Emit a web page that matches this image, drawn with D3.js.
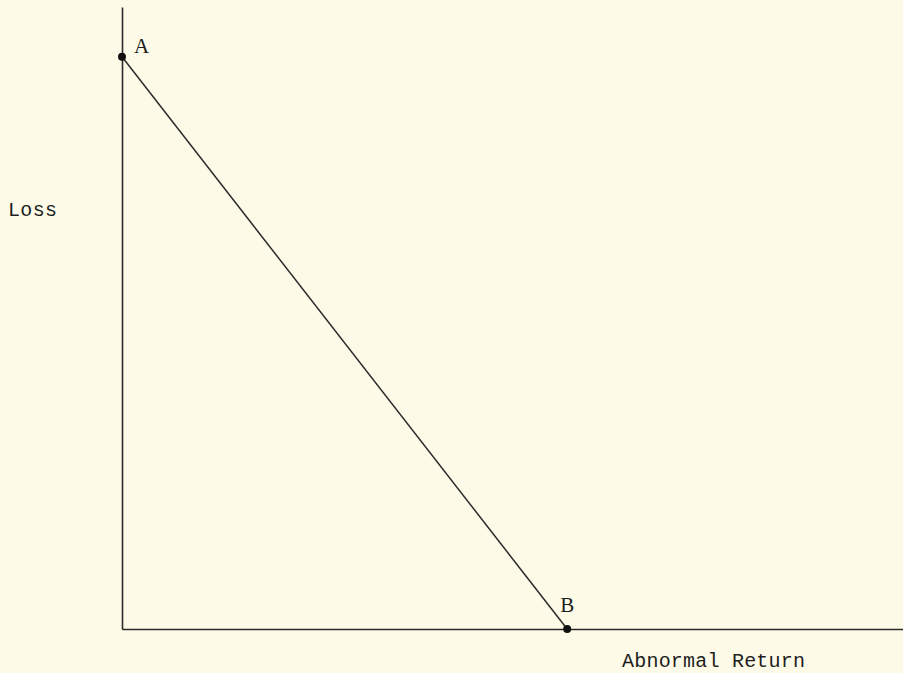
<!DOCTYPE html>
<html><head><meta charset="utf-8">
<script src="https://cdn.jsdelivr.net/npm/d3@7"></script>
<style>html,body{margin:0;padding:0;background:#fdfbe8;}svg{display:block;}</style>
</head><body>
<script>
// Data
const pointLabels = ["A", "B"];
const abnormalReturn = [0, 0.57];
const loss = [0.92, 0];
const axisTitles = ["Abnormal Return", "Loss"];

const W = 903, H = 673;
const svg = d3.select("body").append("svg").attr("width", W).attr("height", H);
svg.append("rect").attr("width", W).attr("height", H).attr("fill", "#fdfbe8");

const x = d3.scaleLinear().domain([0, 1]).range([122, 903]);
const y = d3.scaleLinear().domain([0, 1]).range([629, 7]);
const ink = "#2a2a2a";
const font = "'Liberation Mono', 'Courier New', monospace";

// axes (no ticks)
const xAxis = d3.axisBottom(x).tickValues([]).tickSizeOuter(0);
const yAxis = d3.axisLeft(y).tickValues([]).tickSizeOuter(0);
const gx = svg.append("g").attr("transform", `translate(0,${y(0)})`).call(xAxis);
const gy = svg.append("g").attr("transform", `translate(${x(0)},0)`).call(yAxis);
[gx, gy].forEach(g => g.select(".domain").attr("stroke", ink).attr("stroke-width", 1.6));

const pts = pointLabels.map((l, i) => ({label: l, x: abnormalReturn[i], y: loss[i]}));

svg.append("path")
  .datum(pts)
  .attr("d", d3.line().x(d => x(d.x)).y(d => y(d.y)))
  .attr("fill", "none").attr("stroke", ink).attr("stroke-width", 1.5);

svg.selectAll("circle.pt").data(pts).join("circle")
  .attr("cx", d => x(d.x)).attr("cy", d => y(d.y)).attr("r", 4).attr("fill", "#111");

const labelOffsets = {A: [12, -4], B: [-7, -17]};
svg.selectAll("text.pt").data(pts).join("text")
  .attr("x", d => x(d.x) + labelOffsets[d.label][0])
  .attr("y", d => y(d.y) + labelOffsets[d.label][1])
  .attr("font-family", "'Liberation Serif', serif").attr("font-size", 21).attr("fill", "#1e1e1e")
  .text(d => d.label);

svg.append("text").attr("x", 622).attr("y", 667)
  .attr("font-family", font).attr("font-size", 20).attr("fill", "#1e1e1e")
  .attr("textLength", 183).text(axisTitles[0]);
svg.append("text").attr("x", 8).attr("y", 216)
  .attr("font-family", font).attr("font-size", 20).attr("fill", "#1e1e1e")
  .attr("textLength", 49).text(axisTitles[1]);
</script>
</body></html>
